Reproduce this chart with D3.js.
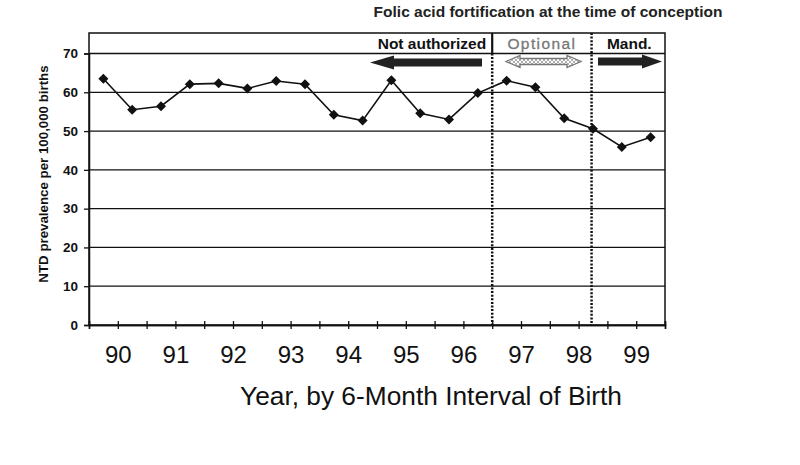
<!DOCTYPE html>
<html>
<head>
<meta charset="utf-8">
<script src="https://cdn.jsdelivr.net/npm/d3@7"></script>
<style>
  body { margin: 0; background: #fff; }
  svg { display: block; font-family: "Liberation Sans", Arial, sans-serif; }
</style>
</head>
<body>
<div id="chart"></div>
<script>
// данные графика
const years = ["90", "91", "92", "93", "94", "95", "96", "97", "98", "99"];
const prevalence = [63.5, 55.5, 56.4, 62.1, 62.3, 61.0, 62.9, 62.1, 54.2, 52.7,
                    63.1, 54.6, 53.0, 59.8, 63.0, 61.3, 53.3, 50.6, 45.9, 48.4];
const yTicks = [0, 10, 20, 30, 40, 50, 60, 70];
const periodNames = ["Not authorized", "Optional", "Mand."];
const periodBreaks = [14, 17.45]; // в полугодиях от начала 1990
const titleText = "Folic acid fortification at the time of conception";
const yTitle = "NTD prevalence per 100,000 births";
const xTitle = "Year, by 6-Month Interval of Birth";

const width = 800, height = 465;
const plotLeft = 89, plotRight = 665, plotTop = 33, plotBottom = 325;

const svg = d3.select("#chart").append("svg")
  .attr("width", width).attr("height", height);

const xScale = d3.scaleLinear().domain([0, prevalence.length]).range([plotLeft, plotRight]);
const yScale = d3.scaleLinear().domain([0, 70]).range([plotBottom, 53.5]);

// штриховка для стрелки "Optional"
const pat = svg.append("defs").append("pattern")
  .attr("id", "hatch").attr("patternUnits", "userSpaceOnUse")
  .attr("width", 4).attr("height", 4);
pat.append("rect").attr("width", 4).attr("height", 4).attr("fill", "#fff");
pat.append("path").attr("d", "M0,0L4,4M4,0L0,4")
  .attr("stroke", "#999").attr("stroke-width", 0.8);

// сетка
svg.append("g").selectAll("line").data(yTicks.filter((d) => d > 0))
  .join("line")
  .attr("x1", plotLeft).attr("x2", plotRight)
  .attr("y1", (d) => yScale(d)).attr("y2", (d) => yScale(d))
  .attr("stroke", "#111").attr("stroke-width", 1.3);

// рамка
svg.append("rect")
  .attr("x", plotLeft).attr("y", plotTop)
  .attr("width", plotRight - plotLeft).attr("height", plotBottom - plotTop)
  .attr("fill", "none").attr("stroke", "#111").attr("stroke-width", 1.5);

// ось Y
const yAxis = svg.append("g")
  .attr("transform", `translate(${plotLeft},0)`)
  .call(d3.axisLeft(yScale).tickValues(yTicks).tickSize(5).tickPadding(6));
yAxis.select(".domain").attr("stroke", "#111").attr("stroke-width", 1.5);
yAxis.selectAll(".tick line").attr("stroke", "#111").attr("stroke-width", 1.3);
yAxis.selectAll(".tick text")
  .attr("font-family", "Liberation Sans, Arial, sans-serif")
  .attr("font-size", "13.5px").attr("font-weight", "bold").attr("fill", "#111");

// ось X: засечки по обе стороны оси
const halfTicks = d3.range(0, prevalence.length + 1);
[d3.axisBottom, d3.axisTop].forEach((axisFn) => {
  const g = svg.append("g")
    .attr("transform", `translate(0,${plotBottom})`)
    .call(axisFn(xScale).tickValues(halfTicks).tickSize(4).tickFormat(""));
  g.select(".domain").attr("stroke", "#111").attr("stroke-width", 1.5);
  g.selectAll(".tick line").attr("stroke", "#111").attr("stroke-width", 1.3);
});

// подписи годов посередине каждого года
const xLabels = svg.append("g")
  .attr("transform", `translate(0,${plotBottom})`)
  .call(d3.axisBottom(xScale)
    .tickValues(years.map((d, i) => i * 2 + 1))
    .tickFormat((d) => years[(d - 1) / 2])
    .tickSize(0).tickPadding(21));
xLabels.select(".domain").remove();
xLabels.selectAll(".tick text")
  .attr("font-family", "Liberation Sans, Arial, sans-serif")
  .attr("font-size", "24px").attr("fill", "#111");

// вертикальные пунктирные линии периодов
svg.append("g").selectAll("line").data(periodBreaks)
  .join("line")
  .attr("x1", (d) => xScale(d)).attr("x2", (d) => xScale(d))
  .attr("y1", (d, i) => (i === 0 ? 53.5 : plotTop)).attr("y2", plotBottom)
  .attr("stroke", "#111").attr("stroke-width", 2.5)
  .attr("stroke-dasharray", "2,1.6");
svg.append("line")
  .attr("x1", xScale(periodBreaks[0])).attr("x2", xScale(periodBreaks[0]))
  .attr("y1", plotTop).attr("y2", 53.5)
  .attr("stroke", "#111").attr("stroke-width", 2.2);

// заголовки периодов
const hdrY = 49;
svg.append("text")
  .attr("x", xScale(periodBreaks[0]) - 6).attr("y", hdrY)
  .attr("text-anchor", "end").attr("font-size", "15.5px").attr("font-weight", "bold")
  .attr("fill", "#111").text(periodNames[0]);
svg.append("text")
  .attr("x", (xScale(periodBreaks[0]) + xScale(periodBreaks[1])) / 2).attr("y", hdrY)
  .attr("text-anchor", "middle").attr("font-size", "15.5px")
  .attr("letter-spacing", "1.4px").attr("fill", "#777")
  .attr("stroke", "#777").attr("stroke-width", 0.3).text(periodNames[1]);
svg.append("text")
  .attr("x", (xScale(periodBreaks[1]) + plotRight) / 2 + 1).attr("y", hdrY)
  .attr("text-anchor", "middle").attr("font-size", "15.5px").attr("font-weight", "bold")
  .attr("fill", "#111").text(periodNames[2]);

// стрелки
function arrowPath(x0, x1, cy, body, head, headLen, both) {
  // x0 - хвост, x1 - острие
  const dir = x1 > x0 ? 1 : -1;
  const hb = x1 - dir * headLen;
  if (!both) {
    return `M${x0},${cy - body / 2}L${hb},${cy - body / 2}L${hb},${cy - head / 2}` +
      `L${x1},${cy}L${hb},${cy + head / 2}L${hb},${cy + body / 2}L${x0},${cy + body / 2}Z`;
  }
  const ha = x0 + dir * headLen;
  return `M${x0},${cy}L${ha},${cy - head / 2}L${ha},${cy - body / 2}L${hb},${cy - body / 2}` +
    `L${hb},${cy - head / 2}L${x1},${cy}L${hb},${cy + head / 2}L${hb},${cy + body / 2}` +
    `L${ha},${cy + body / 2}L${ha},${cy + head / 2}Z`;
}
svg.append("path")
  .attr("d", arrowPath(482, 370, 62.5, 8, 14, 24, false))
  .attr("fill", "#222");
svg.append("path")
  .attr("d", arrowPath(506, 581, 61.5, 6, 12, 14, true))
  .attr("fill", "url(#hatch)").attr("stroke", "#777").attr("stroke-width", 1.3);
svg.append("path")
  .attr("d", arrowPath(598, 662, 61.5, 8, 14, 20, false))
  .attr("fill", "#222");

// линия данных
const line = d3.line()
  .x((d, i) => xScale(i + 0.5))
  .y((d) => yScale(d));
svg.append("path").datum(prevalence)
  .attr("d", line).attr("fill", "none")
  .attr("stroke", "#111").attr("stroke-width", 1.6);

svg.append("g").selectAll("path").data(prevalence)
  .join("path")
  .attr("d", d3.symbol(d3.symbolSquare, 50)())
  .attr("transform", (d, i) => `translate(${xScale(i + 0.5)},${yScale(d)}) rotate(45)`)
  .attr("fill", "#111");

// подписи
svg.append("text")
  .attr("x", 548).attr("y", 17)
  .attr("text-anchor", "middle").attr("font-size", "15.5px").attr("font-weight", "bold")
  .attr("fill", "#222").text(titleText);

svg.append("text")
  .attr("transform", "translate(48,174) rotate(-90)")
  .attr("text-anchor", "middle").attr("font-size", "13.3px").attr("font-weight", "bold")
  .attr("fill", "#111").text(yTitle);

svg.append("text")
  .attr("x", 431).attr("y", 405)
  .attr("text-anchor", "middle").attr("font-size", "26.3px")
  .attr("fill", "#111").text(xTitle);
</script>
</body>
</html>
